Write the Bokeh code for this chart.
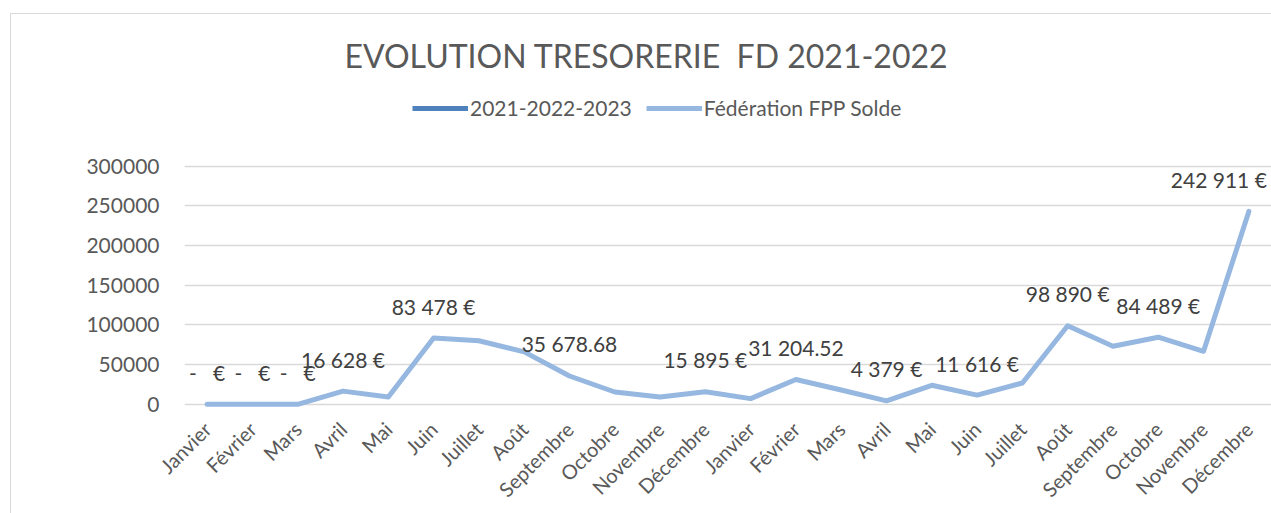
from bokeh.plotting import figure
from bokeh.models import FixedTicker, Legend, LegendItem, Label, BasicTickFormatter, ColumnDataSource, Range1d
from bokeh.layouts import column
from bokeh.core.properties import value
from bokeh.embed import file_html
from bokeh.resources import INLINE
import math

months = ["Janvier", "Février", "Mars", "Avril", "Mai", "Juin", "Juillet", "Août",
          "Septembre", "Octobre", "Novembre", "Décembre",
          "Janvier", "Février", "Mars", "Avril", "Mai", "Juin", "Juillet", "Août",
          "Septembre", "Octobre", "Novembre", "Décembre"]
solde = [0, 0, 0, 16628, 9200, 83478, 80000, 66000, 35678.68, 15500, 9200, 15895,
         7200, 31204.52, 18000, 4379, 24000, 11616, 26900, 98890, 73100, 84489, 66800, 242911]
NB = "\u00a0"
zero_lbl = "-" + NB * 3 + "€"
data_labels = [zero_lbl, zero_lbl, zero_lbl, "16 628 €", "", "83 478 €", "", "", "35 678.68", "", "", "15 895 €",
               "", "31 204.52", "", "4 379 €", "", "11 616 €", "", "98 890 €", "", "84 489 €", "", "242 911 €"]
y_ticks = [0, 50000, 100000, 150000, 200000, 250000, 300000]
title_text = "EVOLUTION TRESORERIE" + NB + " FD 2021-2022"
series_names = ["2021-2022-2023", "Fédération FPP Solde"]
series_colors = ["#4f81bd", "#95b7e0"]

FONT = "Lato"
GRAY = "#595959"
W = 1260
HEAD_H = 138
MAIN_H = 361
LEFT = 173

# ---------- header: title + legend ----------
# frame of the header is aligned with the main frame (page x 184 .. 1271)
h = figure(width=W, height=HEAD_H, x_range=Range1d(184, 1271), y_range=Range1d(HEAD_H, 0),
           output_backend="svg", toolbar_location=None,
           min_border_left=LEFT, min_border_right=0, min_border_top=0, min_border_bottom=0)
h.axis.visible = False
h.grid.visible = False
h.outline_line_color = None
h.background_fill_color = "white"
h.border_fill_color = "white"

d1 = h.line(x=[-500, -400], y=[-500, -400], line_color=series_colors[0], line_width=5)
d2 = h.line(x=[-500, -400], y=[-500, -400], line_color=series_colors[1], line_width=5)
legend = Legend(items=[LegendItem(label=series_names[0], renderers=[d1]),
                       LegendItem(label=series_names[1], renderers=[d2])],
                orientation="horizontal", location=(228, 32),
                glyph_width=56, glyph_height=20, label_standoff=2, spacing=14,
                padding=0, margin=0, border_line_color=None, background_fill_alpha=0,
                label_text_font=FONT, label_text_font_size="21px", label_text_color=GRAY)
h.add_layout(legend, "center")
h.add_layout(Label(x=646, y=41, text=title_text, text_align="center", text_baseline="alphabetic",
                   text_font=FONT, text_font_size="32px", text_color=GRAY))

# ---------- main chart ----------
x = list(range(len(months)))
# the last label is nudged left so that it stays inside the plot, as in the original
label_dx = [0] * (len(months) - 1) + [-30]
src = ColumnDataSource(dict(x=x, y=solde, lbl=data_labels, dx=label_dx))

p = figure(width=W, height=MAIN_H, x_range=(-0.5, len(months) - 0.5), y_range=(-4000, 302000),
           output_backend="svg", toolbar_location=None,
           min_border_left=LEFT, min_border_right=0, min_border_top=12, min_border_bottom=106)
p.outline_line_color = None
p.background_fill_color = "white"
p.border_fill_color = "white"

p.xgrid.visible = False
p.ygrid.grid_line_color = "#d9d9d9"
p.ygrid.grid_line_width = 1.5
p.ygrid.ticker = FixedTicker(ticks=y_ticks)

p.yaxis.ticker = FixedTicker(ticks=y_ticks)
p.yaxis.formatter = BasicTickFormatter(use_scientific=False)
p.yaxis.axis_line_color = None
p.yaxis.major_tick_line_color = None
p.yaxis.minor_tick_line_color = None
p.yaxis.major_label_standoff = 19
p.yaxis.major_label_text_font = FONT
p.yaxis.major_label_text_font_size = "21px"
p.yaxis.major_label_text_color = GRAY

p.xaxis.ticker = FixedTicker(ticks=x)
p.xaxis.major_label_overrides = {i: m for i, m in enumerate(months)}
p.xaxis.major_label_orientation = math.pi / 4
p.xaxis.axis_line_color = None
p.xaxis.major_tick_line_color = None
p.xaxis.minor_tick_line_color = None
p.xaxis.major_label_standoff = 12
p.xaxis.major_label_text_font = FONT
p.xaxis.major_label_text_font_size = "20px"
p.xaxis.major_label_text_color = GRAY

p.line("x", "y", source=src, line_color=series_colors[1], line_width=5,
       line_join="round", line_cap="round")
p.text("x", "y", text="lbl", source=src, x_offset="dx", y_offset=-32, text_align="center",
       text_baseline="middle", text_font=value(FONT), text_font_size="21px", text_color="#404040")

layout = column(h, p, spacing=0,
                styles={"margin-left": "10px", "margin-top": "13px",
                        "border-left": "1px solid #d9d9d9", "border-top": "1px solid #d9d9d9"})

open("out.html", "w").write(file_html(layout, INLINE))
